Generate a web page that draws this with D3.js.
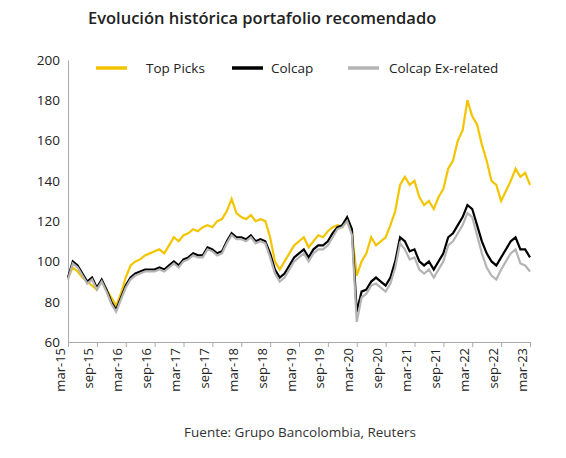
<!DOCTYPE html><html><head><meta charset="utf-8">
<script src="https://cdn.jsdelivr.net/npm/d3@7"></script>
<style>body{margin:0;background:#fff}</style></head><body>
<svg id="c" width="566" height="458"></svg>
<script>
const tickLabels=["mar-15","sep-15","mar-16","sep-16","mar-17","sep-17","mar-18","sep-18","mar-19","sep-19","mar-20","sep-20","mar-21","sep-21","mar-22","sep-22","mar-23"];
const topPicks=[92,97,95,92,90,88,86,90,86,82,
78,84,92,98,100,101,103,104,105,106,104,108,
112,110,113,114,116,115,117,118,117,120,121,125,
131,124,122,121,123,120,121,120,112,100,96,100,
104,108,110,112,107,110,113,112,115,117,118,117,
120,114,93,100,104,112,108,110,112,118,125,138,
142,138,140,132,128,130,126,132,136,146,150,160,
165,180,172,168,158,150,140,138,130,135,140,146,
142,144,138];
const colcap=[92,100,98,94,90,92,87,91,86,80,
76,82,88,92,94,95,96,96,96,97,96,98,
100,98,101,102,104,103,103,107,106,104,105,110,
114,112,112,111,113,110,111,110,104,96,92,94,
98,102,104,106,102,106,108,108,110,114,117,118,
122,116,75,85,86,90,92,90,88,92,100,112,
110,105,106,100,98,100,96,100,104,112,114,118,
122,128,126,118,110,104,100,98,102,106,110,112,
106,106,102];
const exRelated=[91,99,97,93,89,91,86,90,85,79,
75,81,87,91,93,94,95,95,95,96,95,97,
99,97,100,101,103,102,102,106,105,103,104,109,
113,111,111,110,112,109,110,109,102,94,90,92,
96,100,102,104,100,104,106,106,108,112,116,117,
120,113,70,82,84,88,89,87,85,89,97,109,
106,101,102,96,94,96,92,96,100,108,110,114,
118,124,122,113,104,97,93,91,96,100,104,106,
99,98,95];
const series=[{name:"Top Picks",data:topPicks,color:"#f2c500"},{name:"Colcap",data:colcap,color:"#000"},{name:"Colcap Ex-related",data:exRelated,color:"#b4b4b4"}];
const svg=d3.select("#c");
const x=d3.scaleLinear().domain([0,96]).range([68,530]);
const y=d3.scaleLinear().domain([60,200]).range([342,60]);
svg.append("text").attr("x",88).attr("y",24).attr("font-family","Open Sans").attr("font-weight",600).attr("font-size",16.5).attr("fill","#222").text("Evolución histórica portafolio recomendado");
const ya=svg.append("g").attr("transform","translate(68,0)").call(d3.axisLeft(y).tickValues(d3.range(60,201,20)).tickSize(0).tickPadding(8));
ya.select(".domain").attr("stroke","#aaa");
ya.selectAll("text").attr("font-family","Open Sans").attr("font-size",13.5).attr("fill","#222");
const xa=svg.append("g").attr("transform","translate(0,342)").call(d3.axisBottom(x).tickValues(d3.range(0,97,6)).tickFormat((d,i)=>tickLabels[i]).tickSize(5));
xa.select(".domain").attr("stroke","#aaa");xa.selectAll("line").attr("stroke","#aaa");
xa.selectAll("text").attr("font-family","Open Sans").attr("font-size",13).attr("fill","#222").attr("text-anchor","end").attr("transform","rotate(-90)").attr("dx","-6").attr("dy","-0.3em").attr("y",0).attr("x",0);
const line=d3.line().x((d,i)=>x(i)).y(d=>y(d));
series.forEach(s=>svg.append("path").datum(s.data).attr("d",line).attr("fill","none").attr("stroke",s.color).attr("stroke-width",2.2));
const lg=[[96,146],[232,271],[348,389]];
series.forEach((s,i)=>{svg.append("line").attr("x1",lg[i][0]).attr("x2",lg[i][0]+31).attr("y1",68).attr("y2",68).attr("stroke",s.color).attr("stroke-width",3.5);
svg.append("text").attr("x",lg[i][1]).attr("y",73).attr("font-family","Open Sans").attr("font-weight",500).attr("font-size",13.5).attr("fill","#222").text(s.name);});
svg.append("text").attr("x",300).attr("y",437).attr("text-anchor","middle").attr("font-family","Open Sans").attr("font-size",13.5).attr("fill","#333").text("Fuente: Grupo Bancolombia, Reuters");
</script></body></html>
